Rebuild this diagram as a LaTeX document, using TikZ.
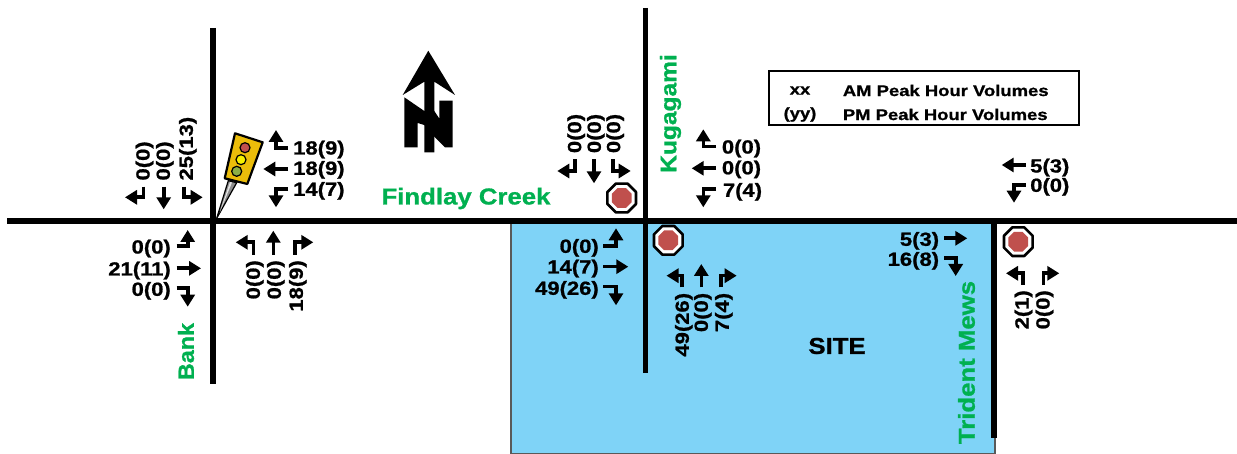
\documentclass[tikz,border=0pt]{standalone}
\usepackage{fontspec}
\setmainfont{Liberation Sans}[BoldFeatures={FakeBold=1}]
\usetikzlibrary{arrows.meta,shapes.geometric}
\definecolor{siteblue}{HTML}{7FD3F7}
\definecolor{roadgreen}{HTML}{00B050}
\definecolor{stopred}{HTML}{C0504D}
\definecolor{sigyellow}{HTML}{EBBD0A}
\definecolor{lampgreen}{HTML}{8CAF45}
\definecolor{lampyellow}{HTML}{F5F000}
\newcommand{\widefont}[2]{\fontsize{#1}{#1}\selectfont\bfseries\addfontfeature{FakeStretch=#2}}
\tikzset{
 road/.style={line width=5.6pt,black},
 flow/.style={line width=3.6pt,black,-{Triangle[length=12pt,width=14pt]}},
 volbase/.style={inner sep=0pt,font=\widefont{19}{1.16},text height=16pt,text depth=2.4pt},
 volL/.style={volbase,anchor=west},
 volR/.style={volbase,anchor=east},
 volUp/.style={volbase,rotate=90,anchor=west},
 volDn/.style={volbase,rotate=90,anchor=east},
 street/.style={inner sep=0pt,text=roadgreen,font=\widefont{23}{1.12}},
 legendtext/.style={inner sep=0pt,font=\widefont{15.5}{1.19}},
 stopouter/.style={regular polygon,regular polygon sides=8,draw=black,line width=2.6pt,line join=round,fill=white,minimum size=31pt,inner sep=0pt},
 stopinner/.style={regular polygon,regular polygon sides=8,fill=stopred,minimum size=21.5pt,inner sep=0pt},
 lamp/.style={circle,draw=black,line width=1.2pt,minimum size=10pt,inner sep=0pt},
}
\newcommand{\stopsign}[3]{\node[stopouter] (#1o) at (#2,#3) {};\node[stopinner] (#1i) at (#2,#3) {};}
\begin{document}
\begin{tikzpicture}[x=1pt,y=-1pt]
\useasboundingbox (0,0) rectangle (1237,454);
% site
\fill[siteblue] (511,221) rectangle (995,454);
\draw[line width=1.5pt,black!65] (511,221) -- (511,453.5) -- (995,453.5) -- (995,438);
% roads
\draw[road] (7,221) -- (1237,221);
\draw[road] (213,28) -- (213,384);
\draw[road] (645.5,8) -- (645.5,373);
\draw[road] (994,221) -- (994,438);
% north arrow
\fill (428.3,50.7) -- (455,95) -- (434.3,81.7) -- (434.3,152.3) -- (424.3,152.3) -- (424.3,81.7) -- (402.7,95) -- cycle;
\fill (404.3,97.3) -- (424.3,111) -- (434.3,111) -- (439.3,118.5) -- (439.3,100.7) -- (452.7,100.7) -- (452.7,147.3) -- (445,147.3) -- (434.3,136.7) -- (424.3,125) -- (417.7,123) -- (417.7,147.3) -- (404.3,147.3) -- cycle;
% signal
\filldraw[fill=black!45,draw=black,line width=1.2pt] (216.7,218.3) -- (228.3,180.7) -- (236.7,182.7) -- cycle;
\fill[black!12] (219.5,213) -- (230,182) -- (232,182.5) -- cycle;
\filldraw[fill=sigyellow,draw=black,line width=2.2pt,line join=round] (235,133.3) -- (262.7,142.3) -- (247.3,184) -- (224.7,178.3) -- cycle;
\node[lamp,fill=stopred] (lampred) at (245,147.7) {};
\node[lamp,fill=lampyellow] (lampyel) at (241,159.7) {};
\node[lamp,fill=lampgreen] (lampgrn) at (236.7,171.3) {};
% stop signs
\stopsign{sa}{621.7}{198}
\stopsign{sb}{668.3}{240.3}
\stopsign{sc}{1018.3}{241.7}
% Bank intersection
\draw[flow] (143.3,186.7) |- (125,197.3);
\draw[flow] (163.7,186.7) -- (163.7,209.3);
\draw[flow] (184,186.7) |- (202.7,197.3);
\node[volUp] (b1) at (142.7,180.7) {0(0)};
\node[volUp] (b2) at (163,180.7) {0(0)};
\node[volUp] (b3) at (186,180.7) {25(13)};
\draw[flow] (288,148.3) -| (276,130);
\draw[flow] (288,169) -- (263.3,169);
\draw[flow] (288,189.3) -| (276,207.3);
\node[volL] (b4) at (293,147.7) {18(9)};
\node[volL] (b5) at (293,168) {18(9)};
\node[volL] (b6) at (293,189) {14(7)};
\draw[flow] (176.7,246) -| (187.7,230);
\draw[flow] (176.7,268.3) -- (201,268.3);
\draw[flow] (176.7,288.3) -| (187.7,306.7);
\node[volR] (b7) at (171,246.7) {0(0)};
\node[volR] (b8) at (171,268.7) {21(11)};
\node[volR] (b9) at (171,289) {0(0)};
\draw[flow] (253.3,255) |- (235.7,242.3);
\draw[flow] (273.3,255) -- (273.3,230.7);
\draw[flow] (295,255) |- (313.3,242.3);
\node[volDn] (b10) at (253,260) {0(0)};
\node[volDn] (b11) at (274,260) {0(0)};
\node[volDn] (b12) at (296,260) {18(9)};
% Kugagami intersection
\draw[flow] (575,159.3) |- (557.3,171);
\draw[flow] (594,159.3) -- (594,183.3);
\draw[flow] (612.7,159.3) |- (630.7,171);
\node[volUp] (k1) at (574.3,153.3) {0(0)};
\node[volUp] (k2) at (594,153.3) {0(0)};
\node[volUp] (k3) at (613.3,153.3) {0(0)};
\draw[flow] (716,146.7) -| (703.3,129.3);
\draw[flow] (716,168.3) -- (691.7,168.3);
\draw[flow] (716,189) -| (703.3,207.3);
\node[volL] (k4) at (721.7,146.7) {0(0)};
\node[volL] (k5) at (721.7,167.5) {0(0)};
\node[volL] (k6) at (722.7,190) {7(4)};
\draw[flow] (603.3,246) -| (616,228.3);
\draw[flow] (603.3,266.7) -- (628.3,266.7);
\draw[flow] (603.3,286.7) -| (616,305.3);
\node[volR] (k7) at (599,246) {0(0)};
\node[volR] (k8) at (599,266.7) {14(7)};
\node[volR] (k9) at (599,288) {49(26)};
\draw[flow] (681.7,287.3) |- (666.5,275.7);
\draw[flow] (701.3,287.3) -- (701.3,264);
\draw[flow] (720.7,287.3) |- (736.7,275.7);
\node[volDn] (k10) at (682,292.7) {49(26)};
\node[volDn] (k11) at (701,292.7) {0(0)};
\node[volDn] (k12) at (722,292.7) {7(4)};
% Trident Mews intersection
\draw[flow] (1025.7,165) -- (1001.7,165);
\draw[flow] (1025.7,185) -| (1014,202.7);
\node[volL] (t1) at (1030,165.7) {5(3)};
\node[volL] (t2) at (1030,185) {0(0)};
\draw[flow] (944,238.3) -- (967.3,238.3);
\draw[flow] (944,258.3) -| (955.7,276);
\node[volR] (t3) at (939.3,239) {5(3)};
\node[volR] (t4) at (939.3,259) {16(8)};
\draw[flow] (1022.7,285) |- (1006,273.3);
\draw[flow] (1043.3,285) |- (1059.3,273.3);
\node[volDn] (t5) at (1021.7,290) {2(1)};
\node[volDn] (t6) at (1042.7,290) {0(0)};
% street names
\node[street] (findlay) at (466,198.5) {Findlay Creek};
\node[street,rotate=90,font=\widefont{22.5}{1.09}] (kuga) at (670.5,113.5) {Kugagami};
\node[street,rotate=90,font=\widefont{22}{1.06}] (bank) at (186,351.5) {Bank};
\node[street,rotate=90] (trident) at (966.5,362.5) {Trident Mews};
\node[inner sep=0pt,font=\widefont{23}{1.12}] (site) at (837,346) {SITE};
% legend
\draw[line width=2pt] (769,70.7) rectangle (1079.3,125);
\node[legendtext] (lx) at (800,90.5) {xx};
\node[legendtext] (ly) at (800,114.5) {(yy)};
\node[legendtext,anchor=west] (la) at (842.7,90.5) {AM Peak Hour Volumes};
\node[legendtext,anchor=west] (lp) at (842.7,114.5) {PM Peak Hour Volumes};
\end{tikzpicture}
\end{document}
